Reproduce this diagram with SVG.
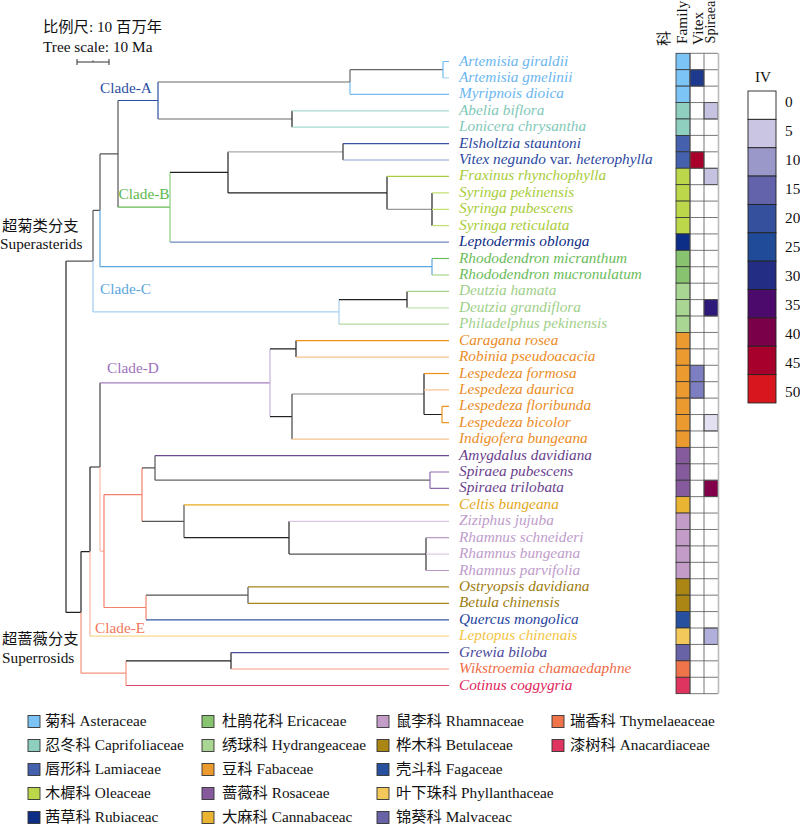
<svg xmlns="http://www.w3.org/2000/svg" width="800" height="824" viewBox="0 0 800 824">
<style>
text{font-family:"Liberation Serif","Noto Sans CJK SC",serif;font-size:15.3px;fill:#111}
.lf{font-style:italic}
.up{font-style:normal}
#tree path{fill:none;stroke-width:1.2;stroke-linecap:butt}
.fc{stroke:#333;stroke-width:0.8}
.cb{stroke:#222;stroke-width:0.9}
.lg{stroke:#333;stroke-width:0.9}
</style>
<rect width="800" height="824" fill="#fff"/>

<g id="scale">
<text x="43" y="32">比例尺: 10 百万年</text>
<text x="43" y="51.5">Tree scale: 10 Ma</text>
<path d="M77,62H109M77,59V65M109,59V65M93,60.5V62" stroke="#333" stroke-width="1" fill="none"/>
</g>

<g id="tree">
<path d="M66,261.1V612.4" stroke="#222"/>
<path d="M66,261.1H93M93,210.3V261.1" stroke="#555"/>
<path d="M93,261.1V311.9" stroke="#9ccaf0"/>
<path d="M93,210.3H100M100,153.9V210.3" stroke="#555"/>
<path d="M100,210.3V266.7" stroke="#5ba6e0"/>
<path d="M100,153.9H118M118,100.5V207.2" stroke="#555"/>
<path d="M118,100.5H158M158,82V119" stroke="#2d4fa3"/>
<path d="M158,82H350" stroke="#6a6a6a" stroke-width="1.6"/>
<path d="M350,69.7V82M350,69.7H443" stroke="#666"/>
<path d="M350,82V94.3M443,61.5V77.9M443,61.5H449M350,94.3H449" stroke="#73bbf0"/>
<path d="M443,77.9H449" stroke="#a9d6f7"/>
<path d="M158,119H292" stroke="#6a6a6a" stroke-width="1.6"/>
<path d="M292,110.8V127.2" stroke="#222"/>
<path d="M292,110.8H449M292,127.2H449" stroke="#a6dbd0"/>
<path d="M118,207.2H170" stroke="#66bb55"/>
<path d="M170,172.3V242.1" stroke="#8ccf78"/>
<path d="M170,172.3H228M228,151.8V192.9" stroke="#222"/>
<path d="M228,151.8H343" stroke="#aaa"/>
<path d="M343,143.6V160" stroke="#333"/>
<path d="M343,143.6H449" stroke="#3b53a2"/>
<path d="M343,160H449" stroke="#8fa0d4" stroke-width="2"/>
<path d="M228,192.9H387M387,176.4V209.3" stroke="#222"/>
<path d="M387,176.4H449" stroke="#a8cf3a"/>
<path d="M387,209.3H432" stroke="#999"/>
<path d="M432,192.9V225.7" stroke="#222"/>
<path d="M432,192.9H449M432,209.3H449M432,225.7H449" stroke="#c5e070"/>
<path d="M170,242.1H449" stroke="#7189c3" stroke-width="2"/>
<path d="M100,266.7H432M432,258.5V275" stroke="#5ba6e0"/>
<path d="M432,258.5H449" stroke="#6cbc5a"/>
<path d="M432,275H449" stroke="#a2d58d"/>
<path d="M93,311.9H339M339,299.6V324.2" stroke="#a6d1f2" stroke-width="1.5"/>
<path d="M339,299.6H407M407,291.4V307.8" stroke="#222"/>
<path d="M407,291.4H449" stroke="#a4d18e"/>
<path d="M407,307.8H449" stroke="#c3e3b3"/>
<path d="M339,324.2H449" stroke="#b3dba0"/>

<path d="M66,612.4H81M81,551.6V612.4M81,551.6H90M90,467V551.6M90,467H100" stroke="#222"/>
<path d="M81,612.4V673.2" stroke="#f3937c"/>
<path d="M90,551.6V636.2" stroke="#f9b5a4"/>
<path d="M100,382.8V467" stroke="#444"/>
<path d="M100,467V551.1M100,551.1H104" stroke="#f9b8a8"/>
<path d="M100,382.8H270" stroke="#a27cc2"/>
<path d="M270,348.9V416.6" stroke="#cbb2de"/>
<path d="M270,348.9H296M296,340.6V357.1" stroke="#222"/>
<path d="M296,340.6H449" stroke="#f0921f"/>
<path d="M296,357.1H449" stroke="#f5c28e" stroke-width="2"/>
<path d="M270,416.6H292" stroke="#222"/>
<path d="M292,394V439.2" stroke="#444"/>
<path d="M292,394H424" stroke="#888" stroke-width="1.6"/>
<path d="M424,373.5V414.5M424,414.5H442" stroke="#222"/>
<path d="M424,373.5H449" stroke="#ee8f1c"/>
<path d="M424,389.9H449" stroke="#f5c28e"/>
<path d="M442,406.3V422.7M442,406.3H449M442,422.7H449" stroke="#f0921f"/>
<path d="M292,439.2H449" stroke="#f5c28e" stroke-width="2"/>
<path d="M104,494.6V607.5M104,494.6H142M142,467.9V521.3M104,607.5H146M146,595.2V619.8" stroke="#f2806a"/>
<path d="M142,467.9H155M155,455.6V480.2" stroke="#555"/>
<path d="M155,455.6H449" stroke="#6c4a92"/>
<path d="M155,480.2H430" stroke="#666" stroke-width="1.6"/>
<path d="M430,472V488.4M430,472H449M430,488.4H449" stroke="#8c6aab"/>
<path d="M142,521.3H184M184,504.8V537.7" stroke="#555"/>
<path d="M184,504.8H449" stroke="#e9ad1f"/>
<path d="M184,537.7H289M289,521.3V554.1" stroke="#222"/>
<path d="M289,521.3H449" stroke="#dcc6e2" stroke-width="2"/>
<path d="M289,554.1H426" stroke="#555" stroke-width="1.4"/>
<path d="M426,537.7V570.5" stroke="#333"/>
<path d="M426,537.7H449M426,570.5H449" stroke="#b99ac8"/>
<path d="M426,554.1H449" stroke="#dcc6e2"/>
<path d="M146,595.2H248M248,586.9V603.4" stroke="#555"/>
<path d="M248,586.9H449M248,603.4H449" stroke="#a8861a"/>
<path d="M146,619.8H449" stroke="#3558a5"/>
<path d="M90,636.2H449" stroke="#fad98e" stroke-width="2"/>
<path d="M81,673.2H126M126,660.8V685.5" stroke="#f3937c"/>
<path d="M126,660.8H231M231,652.6V669" stroke="#222"/>
<path d="M231,652.6H449" stroke="#4b4a9c"/>
<path d="M231,669H449" stroke="#f59c83"/>
<path d="M126,685.5H449" stroke="#e0466c"/>
</g>

<g id="clade-labels">
<text x="100" y="93" style="fill:#2d4fa3">Clade-A</text>
<text x="118.5" y="199" style="fill:#5cb84c">Clade-B</text>
<text x="100" y="294" style="fill:#5ba6e0">Clade-C</text>
<text x="107" y="373" style="fill:#9c72bb">Clade-D</text>
<text x="95" y="633" style="fill:#f2775a">Clade-E</text>
<text x="2" y="231">超菊类分支</text>
<text x="0" y="249">Superasterids</text>
<text x="2" y="644">超蔷薇分支</text>
<text x="2" y="663">Superrosids</text>
</g>

<g id="leaves" class="lf">
<text class="lf" x="459" y="65.5" style="fill:#6bb6f0">Artemisia giraldii</text>
<text class="lf" x="459" y="81.9" style="fill:#6bb6f0">Artemisia gmelinii</text>
<text class="lf" x="459" y="98.3" style="fill:#6bb6f0">Myripnois dioica</text>
<text class="lf" x="459" y="114.8" style="fill:#7fc8b8">Abelia biflora</text>
<text class="lf" x="459" y="131.2" style="fill:#7fc8b8">Lonicera chrysantha</text>
<text class="lf" x="459" y="147.6" style="fill:#2c48a0">Elsholtzia stauntoni</text>
<text class="lf" x="459" y="164" style="fill:#2c48a0">Vitex negundo <tspan class="up">var.</tspan> heterophylla</text>
<text class="lf" x="459" y="180.4" style="fill:#a8cc38">Fraxinus rhynchophylla</text>
<text class="lf" x="459" y="196.9" style="fill:#a8cc38">Syringa pekinensis</text>
<text class="lf" x="459" y="213.3" style="fill:#a8cc38">Syringa pubescens</text>
<text class="lf" x="459" y="229.7" style="fill:#a8cc38">Syringa reticulata</text>
<text class="lf" x="459" y="246.1" style="fill:#0d2c86">Leptodermis oblonga</text>
<text class="lf" x="459" y="262.5" style="fill:#6cbc5a">Rhododendron micranthum</text>
<text class="lf" x="459" y="279" style="fill:#6cbc5a">Rhododendron mucronulatum</text>
<text class="lf" x="459" y="295.4" style="fill:#9fd08a">Deutzia hamata</text>
<text class="lf" x="459" y="311.8" style="fill:#9fd08a">Deutzia grandiflora</text>
<text class="lf" x="459" y="328.2" style="fill:#9fd08a">Philadelphus pekinensis</text>
<text class="lf" x="459" y="344.6" style="fill:#eb8c1f">Caragana rosea</text>
<text class="lf" x="459" y="361.1" style="fill:#eb8c1f">Robinia pseudoacacia</text>
<text class="lf" x="459" y="377.5" style="fill:#eb8c1f">Lespedeza formosa</text>
<text class="lf" x="459" y="393.9" style="fill:#eb8c1f">Lespedeza daurica</text>
<text class="lf" x="459" y="410.3" style="fill:#eb8c1f">Lespedeza floribunda</text>
<text class="lf" x="459" y="426.7" style="fill:#eb8c1f">Lespedeza bicolor</text>
<text class="lf" x="459" y="443.2" style="fill:#eb8c1f">Indigofera bungeana</text>
<text class="lf" x="459" y="459.6" style="fill:#6a3f8e">Amygdalus davidiana</text>
<text class="lf" x="459" y="476" style="fill:#6a3f8e">Spiraea pubescens</text>
<text class="lf" x="459" y="492.4" style="fill:#6a3f8e">Spiraea trilobata</text>
<text class="lf" x="459" y="508.8" style="fill:#e3a71a">Celtis bungeana</text>
<text class="lf" x="459" y="525.3" style="fill:#c09ccb">Ziziphus jujuba</text>
<text class="lf" x="459" y="541.7" style="fill:#c09ccb">Rhamnus schneideri</text>
<text class="lf" x="459" y="558.1" style="fill:#c09ccb">Rhamnus bungeana</text>
<text class="lf" x="459" y="574.5" style="fill:#c09ccb">Rhamnus parvifolia</text>
<text class="lf" x="459" y="590.9" style="fill:#9e7b0e">Ostryopsis davidiana</text>
<text class="lf" x="459" y="607.4" style="fill:#9e7b0e">Betula chinensis</text>
<text class="lf" x="459" y="623.8" style="fill:#1f43a0">Quercus mongolica</text>
<text class="lf" x="459" y="640.2" style="fill:#f5c443">Leptopus chinenais</text>
<text class="lf" x="459" y="656.6" style="fill:#4a479c">Grewia biloba</text>
<text class="lf" x="459" y="673" style="fill:#f06b45">Wikstroemia chamaedaphne</text>
<text class="lf" x="459" y="689.5" style="fill:#e0245a">Cotinus coggygria</text>
</g>

<g id="heatmap">
<text transform="translate(669,46) rotate(-90)">科</text>
<text transform="translate(687,44) rotate(-90)">Family</text>
<text transform="translate(703,45) rotate(-90)">Vitex</text>
<text transform="translate(715,43.5) rotate(-90)" style="font-size:14.3px">Spiraea</text>
<rect x="690" y="53.3" width="28" height="640.4" fill="#fff"/>
<g class="fc">
<rect x="676" y="53.3" width="14" height="16.42" fill="#7cc4f5"/>
<rect x="676" y="69.72" width="14" height="16.42" fill="#7cc4f5"/>
<rect x="676" y="86.14" width="14" height="16.42" fill="#7cc4f5"/>
<rect x="676" y="102.56" width="14" height="16.42" fill="#8ecfc0"/>
<rect x="676" y="118.98" width="14" height="16.42" fill="#8ecfc0"/>
<rect x="676" y="135.4" width="14" height="16.42" fill="#4560ad"/>
<rect x="676" y="151.82" width="14" height="16.42" fill="#4560ad"/>
<rect x="676" y="168.24" width="14" height="16.42" fill="#bcd84a"/>
<rect x="676" y="184.66" width="14" height="16.42" fill="#bcd84a"/>
<rect x="676" y="201.08" width="14" height="16.42" fill="#bcd84a"/>
<rect x="676" y="217.5" width="14" height="16.42" fill="#bcd84a"/>
<rect x="676" y="233.92" width="14" height="16.42" fill="#0c2e86"/>
<rect x="676" y="250.34" width="14" height="16.42" fill="#88c46f"/>
<rect x="676" y="266.76" width="14" height="16.42" fill="#88c46f"/>
<rect x="676" y="283.18" width="14" height="16.42" fill="#a9d693"/>
<rect x="676" y="299.6" width="14" height="16.42" fill="#a9d693"/>
<rect x="676" y="316.02" width="14" height="16.42" fill="#a9d693"/>
<rect x="676" y="332.44" width="14" height="16.42" fill="#eb9a2f"/>
<rect x="676" y="348.86" width="14" height="16.42" fill="#eb9a2f"/>
<rect x="676" y="365.28" width="14" height="16.42" fill="#eb9a2f"/>
<rect x="676" y="381.7" width="14" height="16.42" fill="#eb9a2f"/>
<rect x="676" y="398.12" width="14" height="16.42" fill="#eb9a2f"/>
<rect x="676" y="414.54" width="14" height="16.42" fill="#eb9a2f"/>
<rect x="676" y="430.96" width="14" height="16.42" fill="#eb9a2f"/>
<rect x="676" y="447.38" width="14" height="16.42" fill="#855b9e"/>
<rect x="676" y="463.8" width="14" height="16.42" fill="#855b9e"/>
<rect x="676" y="480.22" width="14" height="16.42" fill="#855b9e"/>
<rect x="676" y="496.64" width="14" height="16.42" fill="#e8b431"/>
<rect x="676" y="513.06" width="14" height="16.42" fill="#c39cc8"/>
<rect x="676" y="529.48" width="14" height="16.42" fill="#c39cc8"/>
<rect x="676" y="545.9" width="14" height="16.42" fill="#c39cc8"/>
<rect x="676" y="562.32" width="14" height="16.42" fill="#c39cc8"/>
<rect x="676" y="578.74" width="14" height="16.42" fill="#ab8614"/>
<rect x="676" y="595.16" width="14" height="16.42" fill="#ab8614"/>
<rect x="676" y="611.58" width="14" height="16.42" fill="#27519e"/>
<rect x="676" y="628" width="14" height="16.42" fill="#f2c95a"/>
<rect x="676" y="644.42" width="14" height="16.42" fill="#6862a6"/>
<rect x="676" y="660.84" width="14" height="16.42" fill="#ef744a"/>
<rect x="676" y="677.26" width="14" height="16.42" fill="#e03460"/>
</g>
<g class="fc">
<rect x="690" y="69.72" width="14" height="16.42" fill="#1e3a8e"/>
<rect x="704" y="102.56" width="14" height="16.42" fill="#c6c3e2"/>
<rect x="690" y="151.82" width="14" height="16.42" fill="#a8002b"/>
<rect x="704" y="168.24" width="14" height="16.42" fill="#c4c1e1"/>
<rect x="704" y="299.6" width="14" height="16.42" fill="#2d1a7a"/>
<rect x="690" y="365.28" width="14" height="16.42" fill="#7d7fc2"/>
<rect x="690" y="381.7" width="14" height="16.42" fill="#7d7fc2"/>
<rect x="704" y="414.54" width="14" height="16.42" fill="#e3e1f1"/>
<rect x="704" y="480.22" width="14" height="16.42" fill="#82004a"/>
<rect x="704" y="628" width="14" height="16.42" fill="#b1afdb"/>
</g>
<path d="M690,53.3H718M690,69.72H718M690,86.14H718M690,102.56H718M690,118.98H718M690,135.4H718M690,151.82H718M690,168.24H718M690,184.66H718M690,201.08H718M690,217.5H718M690,233.92H718M690,250.34H718M690,266.76H718M690,283.18H718M690,299.6H718M690,316.02H718M690,332.44H718M690,348.86H718M690,365.28H718M690,381.7H718M690,398.12H718M690,414.54H718M690,430.96H718M690,447.38H718M690,463.8H718M690,480.22H718M690,496.64H718M690,513.06H718M690,529.48H718M690,545.9H718M690,562.32H718M690,578.74H718M690,595.16H718M690,611.58H718M690,628H718M690,644.42H718M690,660.84H718M690,677.26H718M690,693.68H718M690,53.3V693.68M704,53.3V693.68" stroke="#555" stroke-width="0.8" fill="none"/>
<path d="M718.5,53.3V693.68" stroke="#bbb" stroke-width="1.6" fill="none"/>
</g>

<g id="colorbar">
<text x="763" y="82" text-anchor="middle">IV</text>
<g class="cb">
<rect x="748" y="91" width="28" height="28.36" fill="#ffffff"/>
<rect x="748" y="119.36" width="28" height="28.36" fill="#c9c5e3"/>
<rect x="748" y="147.72" width="28" height="28.36" fill="#9a97c9"/>
<rect x="748" y="176.08" width="28" height="28.36" fill="#6363ab"/>
<rect x="748" y="204.44" width="28" height="28.36" fill="#35519e"/>
<rect x="748" y="232.8" width="28" height="28.36" fill="#1f4b98"/>
<rect x="748" y="261.16" width="28" height="28.36" fill="#232d84"/>
<rect x="748" y="289.52" width="28" height="28.36" fill="#4c0a6c"/>
<rect x="748" y="317.88" width="28" height="28.36" fill="#7a0049"/>
<rect x="748" y="346.24" width="28" height="28.36" fill="#a8002c"/>
<rect x="748" y="374.6" width="28" height="28.36" fill="#d7161e"/>
</g>
<text x="785" y="107">0</text>
<text x="785" y="136">5</text>
<text x="785" y="165">10</text>
<text x="785" y="194">15</text>
<text x="785" y="223">20</text>
<text x="785" y="252">25</text>
<text x="785" y="281">30</text>
<text x="785" y="310">35</text>
<text x="785" y="339">40</text>
<text x="785" y="368">45</text>
<text x="785" y="397">50</text>
</g>

<g id="legend">
<g class="lg">
<rect x="28" y="715.5" width="12" height="12" fill="#7cc4f5"/>
<rect x="28" y="739.5" width="12" height="12" fill="#8ecfc0"/>
<rect x="28" y="763.5" width="12" height="12" fill="#4560ad"/>
<rect x="28" y="787.5" width="12" height="12" fill="#bcd84a"/>
<rect x="28" y="811.5" width="12" height="12" fill="#0c2e86"/>
<rect x="202" y="715.5" width="12" height="12" fill="#88c46f"/>
<rect x="202" y="739.5" width="12" height="12" fill="#a9d693"/>
<rect x="202" y="763.5" width="12" height="12" fill="#eb9a2f"/>
<rect x="202" y="787.5" width="12" height="12" fill="#855b9e"/>
<rect x="202" y="811.5" width="12" height="12" fill="#e8b431"/>
<rect x="377" y="715.5" width="12" height="12" fill="#c39cc8"/>
<rect x="377" y="739.5" width="12" height="12" fill="#ab8614"/>
<rect x="377" y="763.5" width="12" height="12" fill="#27519e"/>
<rect x="377" y="787.5" width="12" height="12" fill="#f2c95a"/>
<rect x="377" y="811.5" width="12" height="12" fill="#6862a6"/>
<rect x="552" y="715.5" width="12" height="12" fill="#ef744a"/>
<rect x="552" y="739.5" width="12" height="12" fill="#e03460"/>
</g>
<text x="45" y="726">菊科 Asteraceae</text>
<text x="45" y="750">忍冬科 Caprifoliaceae</text>
<text x="45" y="774">唇形科 Lamiaceae</text>
<text x="45" y="798">木樨科 Oleaceae</text>
<text x="45" y="822">茜草科 Rubiaceac</text>
<text x="222" y="726">杜鹃花科 Ericaceae</text>
<text x="222" y="750">绣球科 Hydrangeaceae</text>
<text x="222" y="774">豆科 Fabaceae</text>
<text x="222" y="798">蔷薇科 Rosaceae</text>
<text x="222" y="822">大麻科 Cannabaceac</text>
<text x="396" y="726">鼠李科 Rhamnaceae</text>
<text x="396" y="750">桦木科 Betulaceae</text>
<text x="396" y="774">壳斗科 Fagaceae</text>
<text x="396" y="798">叶下珠科 Phyllanthaceae</text>
<text x="396" y="822">锦葵科 Malvaceac</text>
<text x="570" y="726">瑞香科 Thymelaeaceae</text>
<text x="570" y="750">漆树科 Anacardiaceae</text>
</g>
</svg>
